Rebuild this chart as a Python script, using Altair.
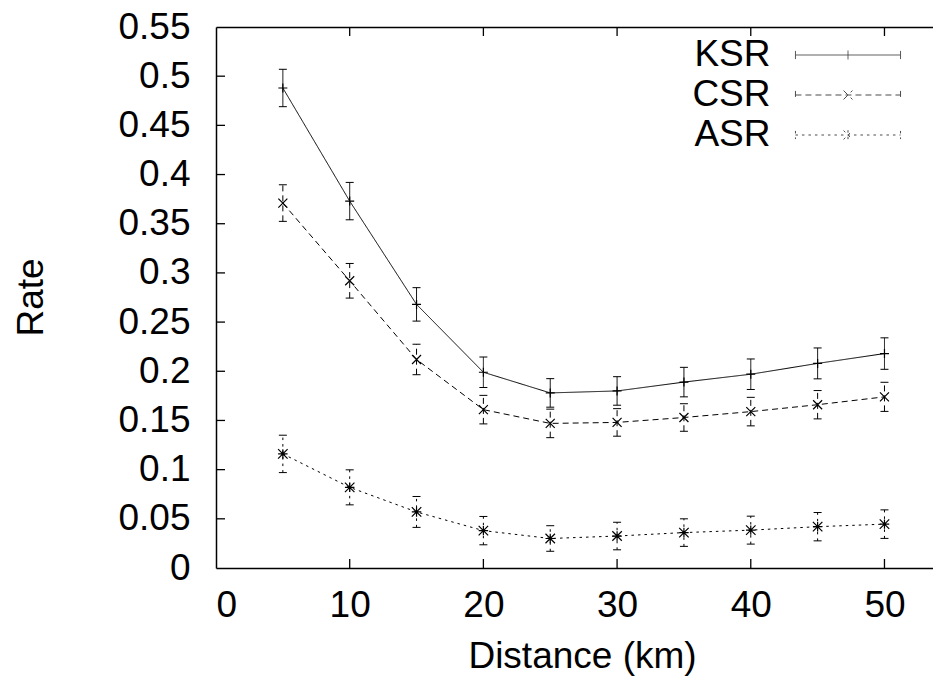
import altair as alt
import pandas as pd

# ---------------- data ----------------
distance = [5, 10, 15, 20, 25, 30, 35, 40, 45, 50]
series_names = ["KSR", "CSR", "ASR"]
ksr = [0.488, 0.373, 0.268, 0.199, 0.178, 0.180, 0.189, 0.197, 0.208, 0.218]
ksr_err = [0.019, 0.019, 0.017, 0.0155, 0.0145, 0.0145, 0.015, 0.0155, 0.0157, 0.016]
csr = [0.371, 0.292, 0.212, 0.161, 0.147, 0.148, 0.153, 0.159, 0.166, 0.174]
csr_err = [0.0186, 0.0176, 0.0155, 0.0145, 0.0145, 0.014, 0.014, 0.0145, 0.0144, 0.0148]
asr = [0.116, 0.082, 0.057, 0.038, 0.030, 0.0325, 0.036, 0.0385, 0.042, 0.0446]
asr_err = [0.019, 0.0178, 0.0157, 0.0144, 0.013, 0.014, 0.014, 0.0142, 0.0144, 0.0145]
x_tick_values = [0, 10, 20, 30, 40, 50]
y_tick_values = [0, 0.05, 0.1, 0.15, 0.2, 0.25, 0.3, 0.35, 0.4, 0.45, 0.5, 0.55]

rows = []
for name, vals, errs in zip(series_names, [ksr, csr, asr], [ksr_err, csr_err, asr_err]):
    for d, v, e in zip(distance, vals, errs):
        rows.append({"series": name, "distance": d, "rate": v, "lo": v - e, "hi": v + e})
df = pd.DataFrame(rows)

xt_df = pd.DataFrame({"t": x_tick_values[1:]})
yt_df = pd.DataFrame({"t": y_tick_values[1:-1]})

# ---------------- styling ----------------
W, H = 717, 541
FONT = "Liberation Sans"
FS = 37
TICK = 9
xscale = alt.Scale(domain=[0, 53.63], nice=False, zero=False)
yscale = alt.Scale(domain=[0, 0.55], nice=False, zero=False)

dashes = {"KSR": [1, 0], "CSR": [6, 4], "ASR": [2.5, 4]}
PLUS = "M-1,0L1,0M0,-1L0,1"
CROSS = "M-1,-1L1,1M-1,1L1,-1"
markers = {"KSR": (PLUS, 81), "CSR": (CROSS, 81), "ASR": (PLUS + CROSS, 90)}
CAP = "M-1,0L1,0"

# legend sample: 105 px line with end caps and the marker in the middle
leg_base = "M-2.84,0L2.84,0M-2.84,-0.22L-2.84,0.22M2.84,-0.22L2.84,0.22"
legend_paths = [
    leg_base + "M0,-0.24L0,0.24",
    leg_base + "M-0.24,-0.24L0.24,0.24M-0.24,0.24L0.24,-0.24",
    leg_base + "M0,-0.26L0,0.26M-0.24,-0.24L0.24,0.24M-0.24,0.24L0.24,-0.24",
]

X = lambda f, **k: alt.X(f, scale=xscale, **k)
Y = lambda f, **k: alt.Y(f, scale=yscale, **k)

layers = []

# main axes layer (bottom x axis, left y axis) - invisible marks
axes_layer = alt.Chart(df).mark_point(opacity=0).encode(
    x=X("distance:Q", axis=alt.Axis(values=x_tick_values, ticks=False, grid=False,
                                     labelPadding=19, title="Distance (km)",
                                     titleX=366, titleY=88, titleBaseline="middle")),
    y=Y("rate:Q", axis=alt.Axis(values=y_tick_values, format=".2~f", ticks=False, grid=False,
                                 labelPadding=26, title="Rate", titleX=-185, titleY=270,
                                 titleBaseline="middle")),
)
layers.append(axes_layer)

# top border (axis on top) + inward ticks
top_ticks = alt.Chart(xt_df).mark_rule(color="black", strokeWidth=1.3).encode(
    x=X("t:Q", axis=alt.Axis(orient="top", labels=False, ticks=False, grid=False, title=None)),
    y=alt.value(0), y2=alt.value(TICK),
)
bottom_ticks = alt.Chart(xt_df).mark_rule(color="black", strokeWidth=1.3).encode(
    x=X("t:Q", axis=None), y=alt.value(H), y2=alt.value(H - TICK),
)
left_ticks = alt.Chart(yt_df).mark_rule(color="black", strokeWidth=1.3).encode(
    y=Y("t:Q", axis=None), x=alt.value(0), x2=alt.value(TICK),
)
layers += [top_ticks, bottom_ticks, left_ticks]

# legend layer (no marks drawn, only the legend)
legend_cfg = alt.Legend(title=None, orient="none", legendX=613, legendY=9,
                        symbolSize=1369, symbolStrokeWidth=1, symbolStrokeColor="black",
                        symbolFillColor="transparent",
                        labelAlign="right", labelOffset={"expr": "-96.5"}, labelFont=FONT,
                        labelFontSize=FS, labelColor="black", labelLimit=0,
                        rowPadding=3, padding=0)
legend_layer = alt.Chart(df).transform_filter("false").mark_point(filled=False, color="black").encode(
    x=X("distance:Q", axis=None),
    y=Y("rate:Q", axis=None),
    shape=alt.Shape("series:N", scale=alt.Scale(domain=series_names, range=legend_paths), legend=legend_cfg),
    strokeDash=alt.StrokeDash("series:N", scale=alt.Scale(domain=series_names,
                                                           range=[dashes[n] for n in series_names]),
                              legend=legend_cfg),
)
layers.append(legend_layer)

for name in series_names:
    sub = alt.Chart(df).transform_filter(alt.datum.series == name)
    dash = dashes[name]
    line = sub.mark_line(color="black", strokeWidth=1, strokeDash=dash).encode(
        x=X("distance:Q", axis=None), y=Y("rate:Q", axis=None))
    err = sub.mark_rule(color="black", strokeWidth=1, strokeDash=dash).encode(
        x=X("distance:Q", axis=None), y=Y("lo:Q", axis=None), y2="hi:Q")
    cap_hi = sub.mark_point(shape=CAP, size=64, filled=False, color="black", strokeWidth=1,
                            opacity=1).encode(x=X("distance:Q", axis=None), y=Y("hi:Q", axis=None))
    cap_lo = sub.mark_point(shape=CAP, size=64, filled=False, color="black", strokeWidth=1,
                            opacity=1).encode(x=X("distance:Q", axis=None), y=Y("lo:Q", axis=None))
    path, sz = markers[name]
    pts = sub.mark_point(shape=path, size=sz, filled=False, color="black", strokeWidth=1.2,
                         opacity=1).encode(x=X("distance:Q", axis=None), y=Y("rate:Q", axis=None))
    layers += [line, err, cap_hi, cap_lo, pts]

chart = alt.layer(*layers).resolve_axis(x="independent", y="independent").properties(
    width=W, height=H,
    padding={"left": 208, "top": 19, "right": 0, "bottom": 110},
    autosize=alt.AutoSizeParams(type="none"),
).configure_view(stroke=None).configure_axis(
    labelFont=FONT, labelFontSize=FS, labelColor="black",
    titleFont=FONT, titleFontSize=FS, titleColor="black", titleFontWeight="normal",
    domainColor="black", domainWidth=1.5,
)

chart.save("out.html", embed_options={"renderer": "svg", "actions": False})
